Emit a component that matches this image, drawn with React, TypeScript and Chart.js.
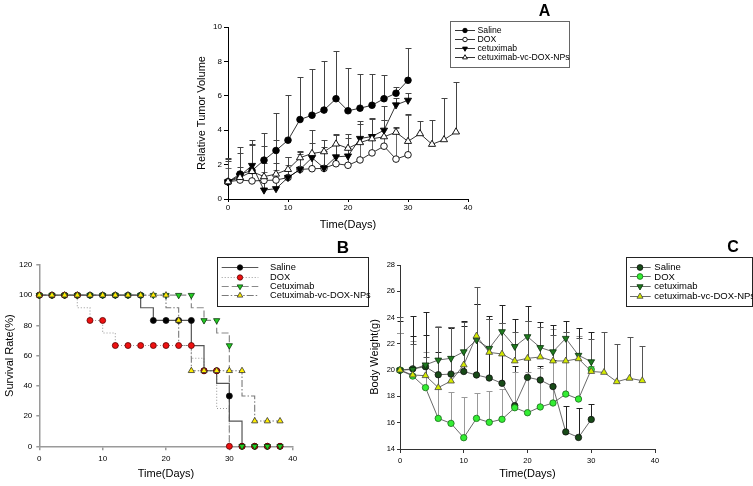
import React, { useEffect, useRef } from 'react';
import { Chart, registerables } from 'chart.js';

Chart.register(...registerables);

const FONT = '"Liberation Sans", Arial, Helvetica, sans-serif';
Chart.defaults.font.family = FONT;
Chart.defaults.color = '#000';

// ---------- Panel A: relative tumor volume ----------
const daysA = [0, 2, 4, 6, 8, 10, 12, 14, 16, 18, 20, 22, 24, 26, 28, 30];
const daysANP = [0, 2, 4, 6, 8, 10, 12, 14, 16, 18, 20, 22, 24, 26, 28, 30, 32, 34, 36, 38];
const tumorSaline = [1.0, 1.45, 1.65, 2.26, 2.82, 3.42, 4.62, 4.87, 5.17, 5.83, 5.13, 5.28, 5.45, 5.83, 6.15, 6.9];
const tumorSalineErr = [1.4, 1.6, 1.8, 1.6, 2.2, 2.6, 2.5, 2.7, 2.85, 2.8, 2.5, 2.0, 1.8, 1.4, 0.35, 1.9];
const tumorDOX = [1.0, 1.1, 1.05, 1.08, 1.1, 1.25, 1.72, 1.76, 1.78, 2.05, 1.96, 2.27, 2.68, 3.07, 2.32, 2.57];
const tumorDOXErr = [0.8, 0.4, 0.5, 0.5, 0.6, 0.7, 0.9, 0.9, 1.0, 1.1, 1.0, 1.0, 1.1, 1.5, 1.8, 2.3];
const tumorCet = [1.0, 1.35, 1.95, 0.52, 0.6, 1.25, 1.72, 2.4, 1.8, 2.45, 2.5, 3.52, 3.63, 4.0, 5.47, 5.74];
const tumorCetErr = [1.3, 1.3, 1.2, 1.6, 1.5, 1.2, 1.0, 1.6, 1.2, 1.3, 1.3, 1.0, 1.0, 1.4, 0.4, 0.4];
const tumorNP = [1.0, 1.25, 1.6, 1.3, 1.45, 1.72, 2.4, 2.65, 2.75, 3.2, 2.95, 3.28, 3.5, 3.62, 3.88, 3.35, 3.8, 3.18, 3.45, 3.9];
const tumorNPErr = [1.2, 0.6, 1.6, 1.8, 2.0, 0.7, 0.4, 0.6, 0.7, 0.6, 0.6, 1.1, 1.2, 1.0, 0.3, 1.6, 0.75, 1.4, 2.4, 2.9];

// ---------- Panel B: survival ----------
const survDays = [0, 2, 4, 6, 8, 10, 12, 14, 16, 18, 20, 22, 24, 26, 28, 30, 32, 34, 36, 38];
const survSaline = [100, 100, 100, 100, 100, 100, 100, 100, 100, 83.3, 83.3, 83.3, 83.3, 50, 50, 33.3, 0, 0, 0, 0];
const survDOX = [100, 100, 100, 100, 83.3, 83.3, 66.7, 66.7, 66.7, 66.7, 66.7, 66.7, 66.7, 50, 50, 0, 0, 0, 0, 0];
const survCet = [100, 100, 100, 100, 100, 100, 100, 100, 100, 100, 100, 100, 100, 83.3, 83.3, 66.7, 0, 0, 0, 0];
const survNP = [100, 100, 100, 100, 100, 100, 100, 100, 100, 100, 100, 83.3, 50, 50, 50, 50, 50, 16.7, 16.7, 16.7];
// Kaplan-Meier step curves
const kmSalineDays = [0, 16, 18, 24, 26, 28, 30, 32];
const kmSaline = [100, 91.7, 83.3, 66.7, 50, 41.7, 16.7, 0];
const kmDOXDays = [0, 6, 8, 10, 12, 24, 26, 28, 30];
const kmDOX = [100, 91.7, 83.3, 75, 66.7, 58.3, 50, 25, 0];
const kmCetDays = [0, 24, 26, 28, 30, 30];
const kmCet = [100, 91.7, 83.3, 75, 66.7, 0];
const kmNPDays = [0, 20, 22, 24, 32, 34, 38];
const kmNP = [100, 91.7, 66.7, 50, 33.3, 16.7, 16.7];

// ---------- Panel C: body weight ----------
const daysC = [0, 2, 4, 6, 8, 10, 12, 14, 16, 18, 20, 22, 24, 26, 28, 30];
const daysCNP = [0, 2, 4, 6, 8, 10, 12, 14, 16, 18, 20, 22, 24, 26, 28, 30, 32, 34, 36, 38];
const bwSaline = [20.0, 20.1, 20.26, 19.65, 19.7, 19.9, 19.63, 19.4, 19.0, 17.3, 19.45, 19.25, 18.75, 15.3, 14.88, 16.25];
const bwSalineErr = [2.85, 4.0, 4.14, 1.75, 3.5, 3.46, 5.37, 4.5, 4.57, 3.0, 4.3, 1.1, 2.0, 2.0, 2.25, 1.15];
const bwDOX = [20.0, 19.55, 18.67, 16.33, 15.95, 14.86, 16.33, 16.03, 16.26, 17.14, 16.76, 17.2, 17.5, 18.18, 17.8, 20.05];
const bwDOXErr = [2.8, 2.65, 2.69, 7.0, 2.35, 3.1, 1.96, 2.4, 2.3, 2.7, 3.1, 3.0, 5.6, 4.7, 4.8, 0.3];
const bwCet = [20.0, 20.05, 20.4, 20.77, 20.9, 21.4, 22.3, 21.66, 22.93, 21.8, 22.55, 21.72, 21.4, 22.42, 21.13, 20.64];
const bwCetErr = [3.74, 2.55, 2.27, 2.5, 2.4, 2.34, 2.7, 2.48, 2.03, 2.07, 2.35, 1.95, 2.0, 1.3, 2.1, 2.3];
const bwNP = [20.0, 19.63, 19.58, 18.67, 19.17, 20.4, 22.6, 21.35, 21.23, 20.7, 20.9, 21.0, 20.7, 20.7, 20.87, 19.9, 19.83, 19.12, 19.38, 19.2];
const bwNPErr = [4.07, 2.34, 1.42, 4.6, 4.13, 3.3, 3.7, 2.55, 2.34, 2.23, 2.86, 2.3, 2.0, 2.2, 1.6, 2.5, 3.1, 2.85, 3.17, 2.66];

const pts = (xs: number[], ys: number[]) => ys.map((y, i) => ({ x: xs[i], y }));

function drawMarker(ctx: CanvasRenderingContext2D, style: string, x: number, y: number, r: number,
  fill: string, stroke: string, bw: number, rot: number) {
  ctx.beginPath();
  if (style === 'triangle') {
    let a = (rot || 0) * Math.PI / 180;
    for (let k = 0; k < 3; k++) {
      const px = x + Math.sin(a) * r;
      const py = y - Math.cos(a) * r;
      if (k === 0) ctx.moveTo(px, py); else ctx.lineTo(px, py);
      a += (2 * Math.PI) / 3;
    }
    ctx.closePath();
  } else {
    ctx.arc(x, y, r, 0, Math.PI * 2);
  }
  ctx.fillStyle = fill;
  ctx.fill();
  if (bw > 0) {
    ctx.lineWidth = bw;
    ctx.strokeStyle = stroke;
    ctx.stroke();
  }
}

const errorBarPlugin = {
  id: 'errbars',
  beforeDatasetsDraw(chart: any) {
    const ctx = chart.ctx as CanvasRenderingContext2D;
    const xs = chart.scales.x;
    const ys = chart.scales.y;
    chart.data.datasets.forEach((ds: any) => {
      if (!ds.errUp) return;
      ctx.save();
      ctx.strokeStyle = ds.errColor || '#000';
      ctx.lineWidth = 1;
      const cap = ds.errCap || 3;
      ds.data.forEach((p: any, i: number) => {
        const e = ds.errUp[i];
        if (!e) return;
        const px = Math.round(xs.getPixelForValue(p.x)) + 0.5;
        const y0 = ys.getPixelForValue(p.y);
        const y1 = Math.round(ys.getPixelForValue(p.y + e)) + 0.5;
        ctx.beginPath();
        ctx.moveTo(px, y0);
        ctx.lineTo(px, y1);
        ctx.moveTo(px - cap, y1);
        ctx.lineTo(px + cap, y1);
        ctx.stroke();
      });
      ctx.restore();
    });
  },
};

type LegendCfg = {
  x: number; y: number; w: number; h: number; border: string;
  rowY0: number; rowGap: number; lx1: number; lx2: number; mx: number; tx: number;
  fontSize: number; mScale: number;
  items: { line: number; marker: number }[];
  letter: string; letterX: number; letterY: number; letterSize: number;
};

function makeLegendPlugin(c: LegendCfg) {
  return {
    id: 'boxLegend',
    afterDraw(chart: any) {
      const ctx = chart.ctx as CanvasRenderingContext2D;
      ctx.save();
      ctx.strokeStyle = c.border;
      ctx.lineWidth = 1;
      ctx.setLineDash([]);
      ctx.strokeRect(Math.round(c.x) + 0.5, Math.round(c.y) + 0.5, c.w, c.h);
      c.items.forEach((it, k) => {
        const y = c.rowY0 + k * c.rowGap;
        const lds = chart.data.datasets[it.line];
        const mds = chart.data.datasets[it.marker];
        ctx.strokeStyle = lds.borderColor;
        ctx.lineWidth = lds.borderWidth;
        ctx.setLineDash(lds.borderDash || []);
        ctx.beginPath();
        ctx.moveTo(c.lx1, Math.round(y) + 0.5);
        ctx.lineTo(c.lx2, Math.round(y) + 0.5);
        ctx.stroke();
        ctx.setLineDash([]);
        drawMarker(ctx, mds.pointStyle, c.mx, Math.round(y) + 0.5, mds.pointRadius * c.mScale,
          mds.pointBackgroundColor, mds.pointBorderColor, mds.pointBorderWidth, mds.pointRotation || 0);
        ctx.fillStyle = '#000';
        ctx.font = `${c.fontSize}px ${FONT}`;
        ctx.textAlign = 'left';
        ctx.textBaseline = 'middle';
        ctx.fillText(mds.label, c.tx, y + 0.5);
      });
      ctx.font = `bold ${c.letterSize}px ${FONT}`;
      ctx.textAlign = 'center';
      ctx.textBaseline = 'middle';
      ctx.fillStyle = '#000';
      ctx.fillText(c.letter, c.letterX, c.letterY);
      ctx.restore();
    },
  };
}

type AxisOpts = {
  xMax: number; yMin: number; yMax: number; yStep: number; yTitle: string; tickSize: number;
  axisColor: string; axisWidth: number; yW: number; xH: number; yTickLen: number; yTickPad: number;
  xTickLen: number; xTickPad: number; yTitlePad: number; xTitlePad: number; titleSize: number;
};

function makeScales(o: AxisOpts) {
  return {
    x: {
      type: 'linear', min: 0, max: o.xMax,
      ticks: { stepSize: 10, font: { size: o.tickSize }, color: '#000', padding: o.xTickPad, maxRotation: 0 },
      grid: { drawOnChartArea: false, drawTicks: true, tickLength: o.xTickLen, color: o.axisColor, lineWidth: o.axisWidth },
      border: { display: true, color: o.axisColor, width: o.axisWidth },
      title: { display: true, text: 'Time(Days)', font: { size: o.titleSize }, color: '#000', padding: { top: 0, bottom: o.xTitlePad } },
      afterFit: (s: any) => { s.height = o.xH; },
    },
    y: {
      type: 'linear', min: o.yMin, max: o.yMax,
      ticks: { stepSize: o.yStep, font: { size: o.tickSize }, color: '#000', padding: o.yTickPad },
      grid: { drawOnChartArea: false, drawTicks: true, tickLength: o.yTickLen, color: o.axisColor, lineWidth: o.axisWidth },
      border: { display: true, color: o.axisColor, width: o.axisWidth },
      title: { display: true, text: o.yTitle, font: { size: o.titleSize }, color: '#000', padding: { top: o.yTitlePad, bottom: 0 } },
      afterFit: (s: any) => { s.width = o.yW; },
    },
  };
}

function baseOptions(pad: any, scales: any) {
  return {
    responsive: false,
    animation: false,
    devicePixelRatio: 1,
    layout: { padding: pad },
    plugins: { legend: { display: false }, tooltip: { enabled: false }, title: { display: false } },
    scales,
  };
}

function series(label: string, xs: number[], ys: number[], err: number[] | null, s: any) {
  return {
    label,
    data: pts(xs, ys),
    errUp: err,
    errColor: s.errColor,
    borderColor: s.line,
    borderWidth: s.lineWidth,
    pointStyle: s.style,
    pointRotation: s.rot || 0,
    pointRadius: s.r,
    pointBackgroundColor: s.fill,
    pointBorderColor: s.stroke,
    pointBorderWidth: s.bw,
    showLine: s.showLine !== false,
    clip: false,
    order: s.order,
  };
}

function configA() {
  const st = (o: any) => ({ line: '#000', lineWidth: 0.8, stroke: '#000', bw: 0.9, errColor: '#444', ...o });
  const datasets = [
    series('Saline', daysA, tumorSaline, tumorSalineErr, st({ style: 'circle', r: 3.3, fill: '#000', order: 4 })),
    series('DOX', daysA, tumorDOX, tumorDOXErr, st({ style: 'circle', r: 3.3, fill: '#fff', order: 3, errColor: '#666' })),
    series('cetuximab', daysA, tumorCet, tumorCetErr, st({ style: 'triangle', rot: 180, r: 4.1, fill: '#000', order: 2 })),
    series('cetuximab-vc-DOX-NPs', daysANP, tumorNP, tumorNPErr, st({ style: 'triangle', r: 4.1, fill: '#fff', order: 1 })),
  ];
  const scales = makeScales({
    xMax: 40, yMin: 0, yMax: 10, yStep: 2, yTitle: 'Relative Tumor Volume', tickSize: 8,
    axisColor: '#000', axisWidth: 1, yW: 48, xH: 35, yTickLen: 4, yTickPad: 2, xTickLen: 3, xTickPad: 1.3,
    yTitlePad: 15.1, xTitlePad: 2.4, titleSize: 11,
  });
  const legend = makeLegendPlugin({
    x: 270, y: 21, w: 119, h: 46, border: '#666', rowY0: 30, rowGap: 8.9, lx1: 275, lx2: 295, mx: 285, tx: 297.5,
    fontSize: 8.7, mScale: 0.68, items: [0, 1, 2, 3].map((i) => ({ line: i, marker: i })),
    letter: 'A', letterX: 364.5, letterY: 12, letterSize: 16,
  });
  return {
    type: 'line',
    data: { datasets },
    options: baseOptions({ left: 0, right: 112, top: 27, bottom: 6 }, scales),
    plugins: [errorBarPlugin, legend],
  };
}

function configB() {
  const kmLine = (label: string, xs: number[], ys: number[], color: string, w: number, dash: number[]) => ({
    label, data: pts(xs, ys), stepped: true, borderColor: color, borderWidth: w, borderDash: dash,
    pointRadius: 0, clip: false, order: 10,
  });
  const marks = (o: any) => ({ line: '#000', lineWidth: 0, stroke: '#111', bw: 0.8, showLine: false, ...o });
  const datasets = [
    kmLine('Saline KM', kmSalineDays, kmSaline, '#555', 1.2, []),
    kmLine('DOX KM', kmDOXDays, kmDOX, '#9a9a9a', 1.1, [1, 2]),
    kmLine('Cetuximab KM', kmCetDays, kmCet, '#8a8a8a', 1.2, [7, 3]),
    kmLine('Cetuximab-vc-DOX-NPs KM', kmNPDays, kmNP, '#7a7a7a', 1.1, [7, 2, 1.5, 2]),
    series('Saline', survDays, survSaline, null, marks({ style: 'circle', r: 3, fill: '#000', order: 4 })),
    series('DOX', survDays, survDOX, null, marks({ style: 'circle', r: 3, fill: '#ee1111', stroke: '#5a0000', order: 3 })),
    series('Cetuximab', survDays, survCet, null, marks({ style: 'triangle', rot: 180, r: 3.6, fill: '#22cc22', stroke: '#0a3a0a', order: 2 })),
    series('Cetuximab-vc-DOX-NPs', survDays, survNP, null, marks({ style: 'triangle', r: 3.6, fill: '#ffee00', stroke: '#333', order: 1 })),
  ];
  const scales = makeScales({
    xMax: 40, yMin: 0, yMax: 120, yStep: 20, yTitle: 'Survival Rate(%)', tickSize: 8,
    axisColor: '#9a9a9a', axisWidth: 1.5, yW: 39.3, xH: 36, yTickLen: 3, yTickPad: 4, xTickLen: 4, xTickPad: 3.6,
    yTitlePad: 3.4, xTitlePad: 1.7, titleSize: 11,
  });
  const legend = makeLegendPlugin({
    x: 216.7, y: 22, w: 151, h: 49, border: '#222', rowY0: 32.3, rowGap: 9.2, lx1: 221.7, lx2: 258.3, mx: 240, tx: 270,
    fontSize: 9.3, mScale: 0.9, items: [0, 1, 2, 3].map((i) => ({ line: i, marker: i + 4 })),
    letter: 'B', letterX: 343, letterY: 13, letterSize: 17,
  });
  return {
    type: 'line',
    data: { datasets },
    options: baseOptions({ left: 0, right: 87.3, top: 30, bottom: 3.7 }, scales),
    plugins: [errorBarPlugin, legend],
  };
}

function configC() {
  const st = (o: any) => ({ line: '#444', lineWidth: 0.8, stroke: '#111', bw: 0.8, errColor: '#222', ...o });
  const datasets = [
    series('Saline', daysC, bwSaline, bwSalineErr, st({ style: 'circle', r: 3.2, fill: '#174a17', order: 4 })),
    series('DOX', daysC, bwDOX, bwDOXErr, st({ style: 'circle', r: 3.2, fill: '#33ee33', stroke: '#1a6a1a', order: 3, errColor: '#999' })),
    series('cetuximab', daysC, bwCet, bwCetErr, st({ style: 'triangle', rot: 180, r: 3.9, fill: '#1f7a1f', stroke: '#0a300a', order: 2 })),
    series('cetuximab-vc-DOX-NPs', daysCNP, bwNP, bwNPErr, st({ style: 'triangle', r: 3.9, fill: '#d4ea00', stroke: '#444', order: 1, errColor: '#555' })),
  ];
  const scales = makeScales({
    xMax: 40, yMin: 14, yMax: 28, yStep: 2, yTitle: 'Body Weight(g)', tickSize: 7.5,
    axisColor: '#333', axisWidth: 1, yW: 35, xH: 34, yTickLen: 3, yTickPad: 2, xTickLen: 4, xTickPad: 3,
    yTitlePad: 3.4, xTitlePad: 2.4, titleSize: 11,
  });
  const legend = makeLegendPlugin({
    x: 260.7, y: 21.7, w: 126, h: 49, border: '#222', rowY0: 31.7, rowGap: 9.7, lx1: 265, lx2: 285.7, mx: 275, tx: 289.3,
    fontSize: 9.5, mScale: 0.9, items: [0, 1, 2, 3].map((i) => ({ line: i, marker: i })),
    letter: 'C', letterX: 368, letterY: 13, letterSize: 16,
  });
  return {
    type: 'line',
    data: { datasets },
    options: baseOptions({ left: 0, right: 98, top: 30, bottom: 3 }, scales),
    plugins: [errorBarPlugin, legend],
  };
}

function ChartCanvas({ make, left, top, w, h }: { make: () => any; left: number; top: number; w: number; h: number }) {
  const ref = useRef<HTMLCanvasElement>(null);
  useEffect(() => {
    const chart = new Chart(ref.current as HTMLCanvasElement, make());
    return () => chart.destroy();
  }, []);
  return (
    <div style={{ position: 'absolute', left, top, width: w, height: h }}>
      <canvas ref={ref} width={w} height={h} style={{ width: w, height: h, display: 'block' }} />
    </div>
  );
}

export default function App() {
  return (
    <div style={{ position: 'fixed', left: 0, top: 0, width: 753, height: 486, background: '#fff', overflow: 'hidden' }}>
      <ChartCanvas make={configA} left={180} top={0} w={400} h={240} />
      <ChartCanvas make={configB} left={0} top={235} w={380} h={251} />
      <ChartCanvas make={configC} left={365} top={235} w={388} h={251} />
    </div>
  );
}
